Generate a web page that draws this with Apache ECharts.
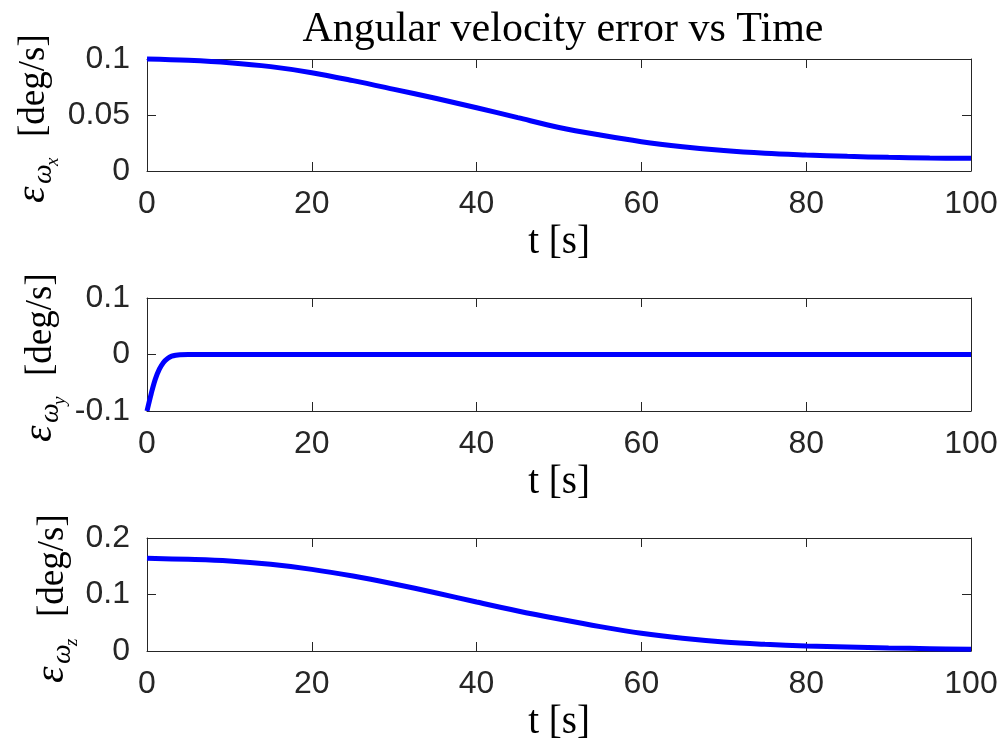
<!DOCTYPE html>
<html>
<head>
<meta charset="utf-8">
<script src="https://cdn.jsdelivr.net/npm/echarts@6/dist/echarts.min.js"></script>
<style>
  html, body { margin: 0; padding: 0; background: #ffffff; }
  #chart { width: 1004px; height: 753px; }
</style>
</head>
<body>
<div id="chart"></div>
<script>
// Time samples (s)
const tSlow = [0, 5, 10, 15, 20, 25, 30, 35, 40, 45, 50, 55, 60, 65, 70, 75, 80, 85, 90, 95, 100];
const tFast = [0, 0.5, 1, 1.5, 2, 2.5, 3, 3.5, 4, 5, 10, 20, 30, 40, 50, 60, 70, 80, 90, 100];

// Angular velocity errors (deg/s)
const errX = [0.1, 0.0988, 0.0967, 0.0932, 0.0878, 0.0807, 0.0729, 0.0649, 0.0565, 0.0476, 0.0389,
              0.0321, 0.0262, 0.0217, 0.0182, 0.0158, 0.0143, 0.0131, 0.0122, 0.0116, 0.0113];
const errY = [-0.1, -0.07, -0.044, -0.026, -0.014, -0.007, -0.003, -0.0012, -0.0004, 0,
              0, 0, 0, 0, 0, 0, 0, 0, 0, 0];
const errZ = [0.164, 0.1622, 0.1593, 0.1534, 0.1445, 0.1327, 0.1186, 0.1032, 0.0867, 0.0708, 0.0565,
              0.0431, 0.0313, 0.0224, 0.0159, 0.0118, 0.0088, 0.0071, 0.0053, 0.0041, 0.003];

// Axis ranges per panel
const xTicks = { min: 0, max: 100, interval: 20 };
const yRanges = [
  { min: 0, max: 0.1, interval: 0.05 },
  { min: -0.1, max: 0.1, interval: 0.1 },
  { min: 0, max: 0.2, interval: 0.1 }
];
const subscripts = ['x', 'y', 'z'];

const SANS = '"Liberation Sans", Arial, Helvetica, sans-serif';
const SERIF = '"Liberation Serif", "Times New Roman", serif';
const AXIS_COLOR = '#262626';

const panels = [
  { top: 59, height: 112, t: tSlow, v: errX },
  { top: 298, height: 113, t: tFast, v: errY },
  { top: 538, height: 113, t: tSlow, v: errZ }
];

const grids = [], xAxes = [], yAxes = [], series = [], graphics = [];

panels.forEach((p, i) => {
  grids.push({ left: 147, right: 33, top: p.top, height: p.height, outerBoundsMode: 'none', containLabel: false });

  const tickStyle = { show: true, inside: true, length: 9, lineStyle: { color: AXIS_COLOR, width: 1 } };
  const lineStyle = { show: true, onZero: false, lineStyle: { color: AXIS_COLOR, width: 1 } };

  xAxes.push({
    type: 'value', gridIndex: i, position: 'bottom', ...xTicks,
    axisLine: lineStyle, axisTick: tickStyle, splitLine: { show: false },
    axisLabel: { color: AXIS_COLOR, fontFamily: SANS, fontSize: 32, margin: 17 },
    name: 't [s]', nameLocation: 'middle', nameGap: 52,
    nameTextStyle: { fontFamily: SERIF, fontSize: 39, color: '#000' }
  });
  xAxes.push({
    type: 'value', gridIndex: i, position: 'top', ...xTicks,
    axisLine: lineStyle, axisTick: tickStyle, splitLine: { show: false },
    axisLabel: { show: false }
  });

  yAxes.push({
    type: 'value', gridIndex: i, position: 'left', ...yRanges[i],
    axisLine: lineStyle, axisTick: tickStyle, splitLine: { show: false },
    axisLabel: { color: AXIS_COLOR, fontFamily: SANS, fontSize: 32, margin: 17 }
  });
  yAxes.push({
    type: 'value', gridIndex: i, position: 'right', ...yRanges[i],
    axisLine: lineStyle, axisTick: tickStyle, splitLine: { show: false },
    axisLabel: { show: false }
  });

  series.push({
    type: 'line',
    xAxisIndex: i * 2, yAxisIndex: i * 2,
    data: p.t.map((t, k) => [t, p.v[k]]),
    showSymbol: false, smooth: 0.35, clip: false,
    lineStyle: { color: '#0000ff', width: 5 },
    itemStyle: { color: '#0000ff' },
    animation: false
  });
});

// Rotated y labels: ε_{ω_i} [deg/s]
const yLabelPos = [{ x: 53, y: 203 }, { x: 60, y: 442 }, { x: 72, y: 683 }];
yLabelPos.forEach((pos, i) => {
  graphics.push({
    type: 'group', x: pos.x, y: pos.y, rotation: Math.PI / 2,
    children: [
      { type: 'text', x: 0, y: 1, style: { text: 'ε', font: 'italic 42px ' + SERIF, fill: '#000', verticalAlign: 'bottom', align: 'left' } },
      { type: 'text', x: 19, y: 5, style: { text: 'ω', font: 'italic 28px ' + SERIF, fill: '#000', verticalAlign: 'bottom', align: 'left' } },
      { type: 'text', x: 37, y: 9, style: { text: subscripts[i], font: 'italic 19px ' + SERIF, fill: '#000', verticalAlign: 'bottom', align: 'left' } },
      { type: 'text', x: 66, y: 0, style: { text: '[deg/s]', font: '37px ' + SERIF, fill: '#000', verticalAlign: 'bottom', align: 'left' } }
    ]
  });
});

const chart = echarts.init(document.getElementById('chart'), null, { renderer: 'canvas' });
chart.setOption({
  backgroundColor: '#ffffff',
  animation: false,
  title: {
    text: 'Angular velocity error vs Time',
    left: 558, top: 4, textAlign: 'center',
    textStyle: { fontFamily: SERIF, fontSize: 42, fontWeight: 'normal', color: '#000' }
  },
  grid: grids,
  xAxis: xAxes,
  yAxis: yAxes,
  series: series,
  graphic: graphics
});
</script>
</body>
</html>
